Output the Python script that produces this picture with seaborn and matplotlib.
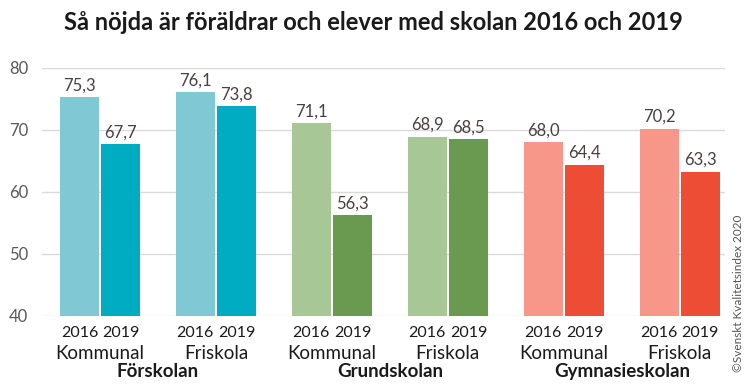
import matplotlib
matplotlib.use("Agg")
import matplotlib.pyplot as plt
import seaborn as sns
import pandas as pd

schools = ["Förskolan", "Grundskolan", "Gymnasieskolan"]
types = ["Kommunal", "Friskola"]
years = ["2016", "2019"]
values_2016 = [75.3, 76.1, 71.1, 68.9, 68.0, 70.2]
values_2019 = [67.7, 73.8, 56.3, 68.5, 64.4, 63.3]
light_colors = ["#7FC8D4", "#A8C796", "#F7978A"]
dark_colors = ["#00ACC2", "#6A9A4F", "#EE4D35"]

groups = [f"{s}|{t}" for s in schools for t in types]
df = pd.DataFrame({
    "group": groups * 2,
    "year": ["2016"] * 6 + ["2019"] * 6,
    "value": values_2016 + values_2019,
})

sns.set_style("white")
plt.rcParams["font.family"] = ["Lato", "DejaVu Sans"]

fig = plt.figure(figsize=(7.46, 3.92), dpi=100)
ax = fig.add_axes([42 / 746, 1 - 316 / 392, (725 - 42) / 746, (316 - 68) / 392])

sns.barplot(data=df, x="group", y="value", hue="year", order=groups,
            hue_order=years, width=0.71, gap=0.05, ax=ax, legend=False,
            bottom=0)

for ci, cont in enumerate(ax.containers):
    for gi, bar in enumerate(cont):
        s = gi // 2
        bar.set_facecolor(light_colors[s] if ci == 0 else dark_colors[s])
        bar.set_edgecolor("none")
        h = bar.get_height()
        ax.text(bar.get_x() + bar.get_width() / 2, h + 0.6,
                f"{h:.1f}".replace(".", ","), ha="center", va="bottom",
                fontsize=12, color="#4A4040", clip_on=False)

ax.set_ylim(40, 80)
ax.set_xlim(-0.5, 5.39)
ax.set_yticks([40, 50, 60, 70, 80])
ax.tick_params(axis="y", labelsize=12, labelcolor="#595959", length=0, pad=10)
ax.yaxis.grid(True, color="#DADADA", linewidth=1)
ax.set_axisbelow(True)
for sp in ax.spines.values():
    sp.set_visible(False)
ax.set_xticks([])
ax.set_xlabel("")
ax.set_ylabel("")

trans = ax.get_xaxis_transform()
for ci, cont in enumerate(ax.containers):
    for gi, bar in enumerate(cont):
        ax.text(bar.get_x() + bar.get_width() / 2, -0.04, years[ci],
                transform=trans, ha="center", va="top", fontsize=11.5,
                color="#1A1A1A")
for gi, g in enumerate(groups):
    ax.text(gi, -0.115, g.split("|")[1], transform=trans, ha="center",
            va="top", fontsize=13.5, color="#1A1A1A")
for si, s in enumerate(schools):
    ax.text(2 * si + 0.5, -0.19, s, transform=trans, ha="center", va="top",
            fontsize=13.5, fontweight="bold", color="#1A1A1A")

fig.text(0.5, 1 - 22 / 392, "Så nöjda är föräldrar och elever med skolan 2016 och 2019",
         ha="center", va="center", fontsize=17, fontweight="bold", color="#1A1A1A")
fig.text(738 / 746, 1 - 293 / 392, "©Svenskt Kvalitetsindex 2020", rotation=90,
         ha="center", va="center", fontsize=8.5, color="#555555")

fig.savefig("out.png", dpi=100)
